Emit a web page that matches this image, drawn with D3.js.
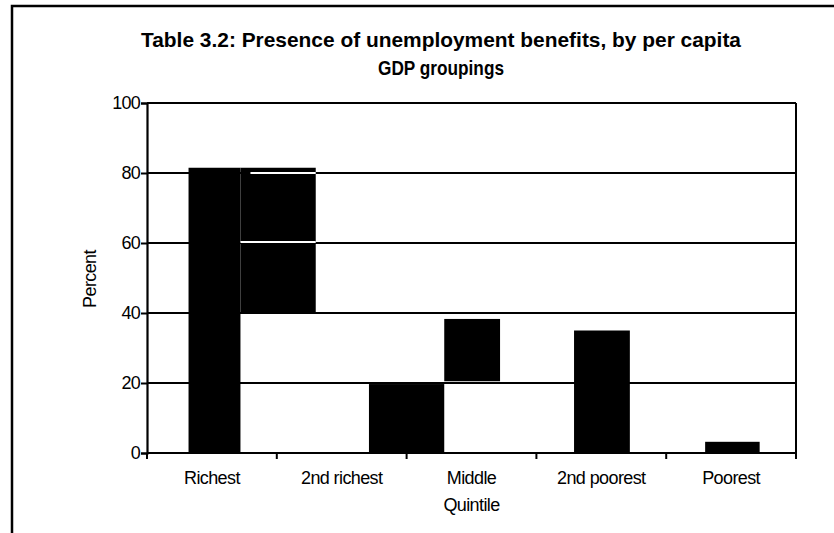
<!DOCTYPE html>
<html>
<head>
<meta charset="utf-8">
<script src="https://cdn.jsdelivr.net/npm/d3@7"></script>
<style>
  html, body { margin: 0; padding: 0; background: #fff; }
  svg { display: block; font-family: "Liberation Sans", Arial, sans-serif; }
</style>
</head>
<body>
<svg id="chart" width="834" height="533"></svg>
<script>
// Quintile groupings along the x axis
const categories = ["Richest", "2nd richest", "Middle", "2nd poorest", "Poorest"];
// Shaded blocks, as spans along the quintile axis (0–5) and percent ranges
const blockStart = [0.32, 0.72, 1.71, 2.29, 3.29, 4.30];
const blockEnd   = [0.72, 1.30, 2.29, 2.72, 3.72, 4.72];
const blockLow   = [0, 40, 0, 20.5, 0, 0];
const blockHigh  = [81.5, 81.5, 19.7, 38.3, 35, 3.2];
const yTicks = [0, 20, 40, 60, 80, 100];

const titleLines = ["Table 3.2:  Presence of unemployment benefits, by per capita", "GDP groupings"];

const svg = d3.select("#chart");

// Outer frame (top and left edges)
svg.append("path")
  .attr("d", "M12,533V6H834")
  .attr("fill", "none").attr("stroke", "#000").attr("stroke-width", 2.5);

const x = d3.scaleLinear().domain([0, categories.length]).range([147, 796]);
const y = d3.scaleLinear().domain([0, 100]).range([453, 103]);

// Title
svg.append("text").attr("x", 441).attr("y", 47).attr("text-anchor", "middle")
  .attr("font-weight", "bold").attr("font-size", 20.5)
  .attr("textLength", 600).attr("lengthAdjust", "spacingAndGlyphs")
  .text(titleLines[0]);
svg.append("text").attr("x", 441).attr("y", 75).attr("text-anchor", "middle")
  .attr("font-weight", "bold").attr("font-size", 20.5)
  .attr("textLength", 126).attr("lengthAdjust", "spacingAndGlyphs")
  .text(titleLines[1]);

// Horizontal gridlines
svg.append("g").selectAll("line").data(yTicks.filter(d => d > 0)).join("line")
  .attr("x1", x(0)).attr("x2", x(5))
  .attr("y1", d => y(d)).attr("y2", d => y(d))
  .attr("stroke", "#000").attr("stroke-width", 2);

// Right edge of the plot area
svg.append("line").attr("x1", x(5)).attr("x2", x(5)).attr("y1", y(100)).attr("y2", y(0))
  .attr("stroke", "#000").attr("stroke-width", 2);

// Blocks
const blocks = blockStart.map((s, i) => ({ s, e: blockEnd[i], lo: blockLow[i], hi: blockHigh[i] }));
svg.append("g").selectAll("rect").data(blocks).join("rect")
  .attr("x", d => x(d.s)).attr("width", d => x(d.e) - x(d.s))
  .attr("y", d => y(d.hi)).attr("height", d => y(d.lo) - y(d.hi))
  .attr("fill", "#000");

// Gridlines showing through the second block as light lines
const b1 = blocks[1];
svg.append("g").selectAll("line").data(yTicks.filter(d => d > b1.lo && d < b1.hi)).join("line")
  .attr("x1", d => x(b1.s) + (d === 80 ? 10 : 0)).attr("x2", x(b1.e))
  .attr("y1", d => y(d) - (d === 80 ? 0 : 1)).attr("y2", d => y(d) - (d === 80 ? 0 : 1))
  .attr("stroke", "#fff").attr("stroke-width", 2);

// Y axis
const yAxis = d3.axisLeft(y).tickValues(yTicks).tickSize(6).tickPadding(1);
const gy = svg.append("g").attr("transform", `translate(${x(0)},0)`).call(yAxis);
gy.select(".domain").attr("stroke-width", 2.2);
gy.selectAll(".tick line").attr("stroke-width", 2);
gy.selectAll(".tick text").attr("font-size", 18).attr("font-family", "Liberation Sans, Arial, sans-serif")
  .attr("fill", "#000").attr("letter-spacing", -0.8);

// X axis: ticks at group boundaries, labels centred in each group
const gx = svg.append("g").attr("transform", `translate(0,${y(0)})`);
gx.append("line").attr("x1", x(0)).attr("x2", x(5)).attr("y1", 0).attr("y2", 0)
  .attr("stroke", "#000").attr("stroke-width", 2.2);
gx.selectAll("line.tk").data(d3.range(categories.length + 1)).join("line").attr("class", "tk")
  .attr("x1", d => x(d)).attr("x2", d => x(d)).attr("y1", 0).attr("y2", 6)
  .attr("stroke", "#000").attr("stroke-width", 2);
gx.selectAll("text").data(categories).join("text")
  .attr("x", (d, i) => x(i + 0.5)).attr("y", 31).attr("text-anchor", "middle")
  .attr("font-size", 18).attr("letter-spacing", -0.6).text(d => d);

// Axis titles
svg.append("text").attr("x", x(2.5)).attr("y", 511).attr("text-anchor", "middle")
  .attr("font-size", 18).attr("letter-spacing", -0.6).text("Quintile");
svg.append("text").attr("transform", "translate(96,279) rotate(-90)").attr("text-anchor", "middle")
  .attr("font-size", 18).attr("letter-spacing", -0.6).text("Percent");
</script>
</body>
</html>
